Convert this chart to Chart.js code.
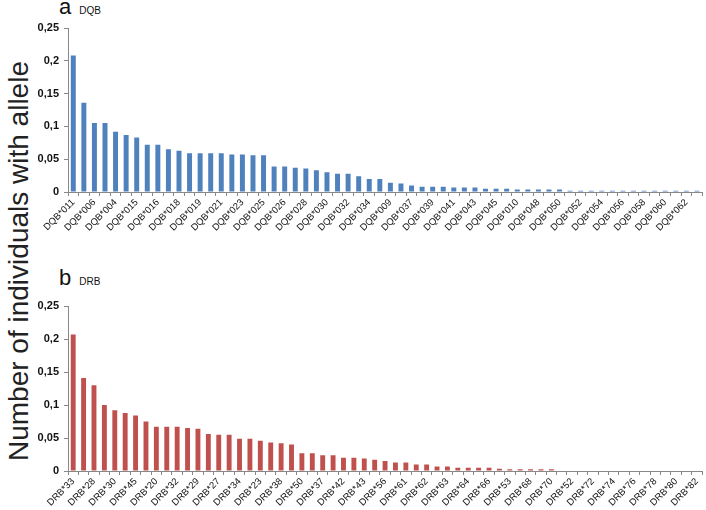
<!DOCTYPE html>
<html>
<head>
<meta charset="utf-8">
<script src="https://cdn.jsdelivr.net/npm/chart.js@4/dist/chart.umd.min.js"></script>
<style>
  body { margin: 0; width: 706px; height: 510px; background: #fff; position: relative; overflow: hidden;
         font-family: "Liberation Sans", Arial, sans-serif; }
  .box { position: absolute; left: 0; width: 706px; }
  #topBox { top: 0; height: 250px; }
  #botBox { top: 250px; height: 260px; }
  .panel { position: absolute; color: #111; white-space: nowrap; }
  .panel .big { font-size: 22px; }
  .panel .small { font-size: 10px; margin-left: 8px; }
  #ytitle { position: absolute; left: 19px; top: 261px; transform: translate(-50%, -50%) rotate(-90deg);
            white-space: nowrap; font-size: 28px; color: #222; }
</style>
</head>
<body>
<div class="panel" style="left:59px;top:-6px"><span class="big">a</span><span class="small">DQB</span></div>
<div class="panel" style="left:59px;top:265px"><span class="big">b</span><span class="small">DRB</span></div>
<div id="ytitle">Number of individuals with allele</div>
<div class="box" id="topBox"><canvas id="dqbChart"></canvas></div>
<div class="box" id="botBox"><canvas id="drbChart"></canvas></div>
<script>
// DQB alleles (only every other label is printed on the axis)
const dqbLabels = [
  'DQB*011', 'DQB*001', 'DQB*006', 'DQB*002', 'DQB*004', 'DQB*003', 'DQB*015', 'DQB*005',
  'DQB*016', 'DQB*007', 'DQB*018', 'DQB*008', 'DQB*019', 'DQB*012', 'DQB*021', 'DQB*013',
  'DQB*023', 'DQB*014', 'DQB*025', 'DQB*017', 'DQB*026', 'DQB*020', 'DQB*028', 'DQB*022',
  'DQB*030', 'DQB*024', 'DQB*032', 'DQB*027', 'DQB*034', 'DQB*029', 'DQB*009', 'DQB*031',
  'DQB*037', 'DQB*033', 'DQB*039', 'DQB*035', 'DQB*041', 'DQB*036', 'DQB*043', 'DQB*038',
  'DQB*045', 'DQB*040', 'DQB*010', 'DQB*042', 'DQB*048', 'DQB*044', 'DQB*050', 'DQB*049',
  'DQB*052', 'DQB*051', 'DQB*054', 'DQB*053', 'DQB*056', 'DQB*055', 'DQB*058', 'DQB*057',
  'DQB*060', 'DQB*059', 'DQB*062', 'DQB*061'
];
const dqbValues = [
  0.208, 0.136, 0.105, 0.105, 0.092, 0.087, 0.083, 0.072, 0.072, 0.065,
  0.063, 0.059, 0.059, 0.059, 0.059, 0.057, 0.057, 0.056, 0.056, 0.039,
  0.039, 0.037, 0.036, 0.033, 0.030, 0.028, 0.028, 0.024, 0.020, 0.020,
  0.014, 0.013, 0.010, 0.008, 0.008, 0.008, 0.007, 0.007, 0.007, 0.005,
  0.005, 0.005, 0.004, 0.004, 0.004, 0.004, 0.004, 0.002, 0.002, 0.002,
  0.002, 0.002, 0.002, 0.002, 0.002, 0.002, 0.002, 0.002, 0.002, 0.002
];

// DRB alleles
const drbLabels = [
  'DRB*33', 'DRB*24', 'DRB*28', 'DRB*31', 'DRB*30', 'DRB*25', 'DRB*45', 'DRB*26',
  'DRB*20', 'DRB*21', 'DRB*32', 'DRB*35', 'DRB*29', 'DRB*22', 'DRB*27', 'DRB*36',
  'DRB*34', 'DRB*39', 'DRB*23', 'DRB*40', 'DRB*38', 'DRB*41', 'DRB*50', 'DRB*44',
  'DRB*37', 'DRB*46', 'DRB*42', 'DRB*47', 'DRB*43', 'DRB*48', 'DRB*56', 'DRB*49',
  'DRB*61', 'DRB*51', 'DRB*62', 'DRB*54', 'DRB*63', 'DRB*55', 'DRB*64', 'DRB*57',
  'DRB*66', 'DRB*58', 'DRB*53', 'DRB*59', 'DRB*68', 'DRB*60', 'DRB*70', 'DRB*65',
  'DRB*52', 'DRB*71', 'DRB*72', 'DRB*73', 'DRB*74', 'DRB*75', 'DRB*76', 'DRB*77',
  'DRB*78', 'DRB*79', 'DRB*80', 'DRB*81', 'DRB*82'
];
const drbValues = [
  0.207, 0.141, 0.130, 0.100, 0.092, 0.088, 0.084, 0.075, 0.067, 0.067,
  0.067, 0.065, 0.064, 0.056, 0.055, 0.055, 0.049, 0.049, 0.046, 0.043,
  0.042, 0.040, 0.027, 0.027, 0.024, 0.024, 0.020, 0.020, 0.019, 0.017,
  0.015, 0.013, 0.013, 0.010, 0.010, 0.007, 0.007, 0.005, 0.005, 0.005,
  0.005, 0.0035, 0.0025, 0.0025, 0.0025, 0.0025, 0.0025, 0, 0, 0,
  0, 0, 0, 0, 0, 0, 0, 0, 0, 0, 0
];

const yTicks = [0, 0.05, 0.1, 0.15, 0.2, 0.25];
const AXIS = '#888888';

function fmt(v) {
  return v === 0 ? '0' : String(Math.round(v * 100) / 100).replace('.', ',');
}

// areaTop / areaBottom are chart-area edges inside the canvas
function makeChart(id, labels, values, color, canvasH, areaTop, areaBottom) {
  const canvas = document.getElementById(id);
  canvas.width = 706;
  canvas.height = canvasH;
  canvas.style.width = '706px';
  canvas.style.height = canvasH + 'px';
  return new Chart(canvas.getContext('2d'), {
    type: 'bar',
    data: {
      labels: labels,
      datasets: [{
        data: values,
        backgroundColor: color,
        borderWidth: 0,
        categoryPercentage: 1,
        barPercentage: 0.47
      }]
    },
    options: {
      responsive: false,
      animation: false,
      layout: { padding: { top: areaTop, right: 1, left: 0, bottom: 0 } },
      plugins: { legend: { display: false }, tooltip: { enabled: false } },
      scales: {
        x: {
          afterFit: s => { s.height = canvasH - areaBottom; },
          grid: { offset: true, drawOnChartArea: false, drawTicks: true, tickLength: 4, color: AXIS },
          border: { display: true, color: AXIS },
          ticks: {
            autoSkip: false,
            maxRotation: 45,
            minRotation: 45,
            padding: 1,
            color: '#111',
            font: { family: '"Liberation Sans", Arial, sans-serif', size: 9.5 },
            callback: (v, i) => (i % 2 === 0 ? labels[i] : '')
          }
        },
        y: {
          min: 0,
          max: 0.25,
          afterFit: s => { s.width = 68; },
          afterBuildTicks: s => { s.ticks = yTicks.map(v => ({ value: v })); },
          grid: { drawOnChartArea: false, drawTicks: true, tickLength: 4, color: AXIS },
          border: { display: true, color: AXIS },
          ticks: {
            padding: 5,
            color: '#111',
            font: { family: '"Liberation Sans", Arial, sans-serif', size: 11, weight: 'bold' },
            callback: v => fmt(v)
          }
        }
      }
    }
  });
}

makeChart('dqbChart', dqbLabels, dqbValues, '#4F81BD', 250, 28, 192);
makeChart('drbChart', drbLabels, drbValues, '#C0504D', 260, 56, 221);
</script>
</body>
</html>
